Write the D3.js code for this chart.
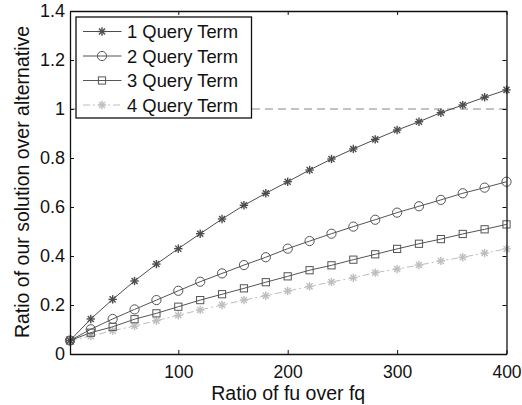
<!DOCTYPE html>
<html><head><meta charset="utf-8">
<script src="https://cdn.jsdelivr.net/npm/d3@7"></script>
<style>body{margin:0;background:#fff}svg{display:block}text{font-family:"Liberation Sans",Arial,sans-serif;fill:#111}</style>
</head><body><svg id="c" width="522" height="405"></svg>
<script>
const xValues = [1,20,40,60,80,100,120,140,160,180,200,220,240,260,280,300,320,340,360,380,400];
const series1 = [0.055,0.143,0.223,0.298,0.367,0.430,0.491,0.551,0.607,0.656,0.703,0.751,0.796,0.837,0.876,0.914,0.948,0.985,1.016,1.048,1.078];
const series2 = [0.055,0.101,0.143,0.182,0.220,0.258,0.295,0.329,0.363,0.395,0.430,0.461,0.491,0.520,0.548,0.577,0.603,0.629,0.656,0.679,0.703];
const series3 = [0.055,0.087,0.111,0.142,0.166,0.193,0.220,0.244,0.268,0.293,0.317,0.342,0.362,0.385,0.407,0.429,0.450,0.469,0.490,0.509,0.529];
const series4 = [0.055,0.073,0.095,0.114,0.136,0.158,0.180,0.200,0.220,0.238,0.257,0.276,0.294,0.311,0.332,0.347,0.363,0.380,0.395,0.412,0.429];
const seriesNames = ["1 Query Term","2 Query Term","3 Query Term","4 Query Term"];
const xTicks = [100,200,300,400];
const yTicks = [0,0.2,0.4,0.6,0.8,1,1.2,1.4];
const refLine = 1;

const svg = d3.select("#c");
const L=70, R=506.5, T=11, B=354;
const x = d3.scaleLinear().domain([1,400]).range([L,R]);
const y = d3.scaleLinear().domain([0,1.4]).range([B,T]);

const styles = [
  {color:"#4d4d4d", dash:null, marker:"star"},
  {color:"#555", dash:null, marker:"circle"},
  {color:"#555", dash:null, marker:"square"},
  {color:"#bdbdbd", dash:"7,3,2,3", marker:"star"}
];
const allSeries = [series1,series2,series3,series4];

svg.append("line").attr("x1",x(1)).attr("x2",x(400)).attr("y1",y(refLine)).attr("y2",y(refLine))
  .attr("stroke","#888").attr("stroke-width",1.2).attr("stroke-dasharray","8,5");

function drawMarker(g, type, cx, cy, color){
  if(type==="circle"){
    g.append("circle").attr("cx",cx).attr("cy",cy).attr("r",4.6).attr("fill","none").attr("stroke",color).attr("stroke-width",1);
  } else if(type==="square"){
    g.append("rect").attr("x",cx-3.6).attr("y",cy-3.6).attr("width",7.2).attr("height",7.2).attr("fill","none").attr("stroke",color).attr("stroke-width",1);
  } else {
    const r=4.2;
    [[0,1],[1,0],[0.72,0.72],[0.72,-0.72]].forEach(([a,b])=>{
      g.append("line").attr("x1",cx-a*r).attr("y1",cy-b*r).attr("x2",cx+a*r).attr("y2",cy+b*r)
        .attr("stroke",color).attr("stroke-width",1.4);
    });
  }
}

const line = d3.line().x((d,i)=>x(xValues[i])).y(d=>y(d));
for(let s=3;s>=0;s--){
  const st=styles[s];
  const g=svg.append("g");
  g.append("path").datum(allSeries[s]).attr("d",line).attr("fill","none")
    .attr("stroke",st.color).attr("stroke-width",1).attr("stroke-dasharray",st.dash);
  allSeries[s].forEach((v,i)=>drawMarker(g,st.marker,x(xValues[i]),y(v),st.color));
}

const xAxisB = d3.axisBottom(x).tickValues(xTicks).tickSizeInner(-4).tickSizeOuter(0).tickPadding(11.5);
const xAxisT = d3.axisTop(x).tickValues(xTicks).tickSizeInner(-4).tickSizeOuter(0).tickFormat("");
const yAxisL = d3.axisLeft(y).tickValues(yTicks).tickSizeInner(-4).tickSizeOuter(0).tickPadding(5).tickFormat(d3.format("~g"));
const yAxisR = d3.axisRight(y).tickValues(yTicks).tickSizeInner(-4).tickSizeOuter(0).tickFormat("");
function style(g){ g.select(".domain").attr("stroke","#111").attr("stroke-width",1.3);
  g.selectAll(".tick line").attr("stroke","#111");
  g.selectAll(".tick text").attr("font-size",18).attr("font-family","Liberation Sans, Arial, sans-serif").attr("fill","#111"); }
svg.append("g").attr("transform",`translate(0,${B})`).call(xAxisB).call(style)
  .selectAll(".tick text").attr("font-size",17.5);
svg.append("g").attr("transform",`translate(0,${T})`).call(xAxisT).call(style);
svg.append("g").attr("transform",`translate(${L},0)`).call(yAxisL).call(style);
svg.append("g").attr("transform",`translate(${R},0)`).call(yAxisR).call(style);

svg.append("text").attr("x",(L+R)/2).attr("y",399.5).attr("text-anchor","middle").attr("font-size",19.5).text("Ratio of fu over fq");
svg.append("text").attr("transform",`translate(29,182) rotate(-90)`).attr("text-anchor","middle").attr("font-size",19.5).text("Ratio of our solution over alternative");

const lg = svg.append("g");
lg.append("rect").attr("x",76).attr("y",17).attr("width",175.5).attr("height",101).attr("fill","#fff").attr("stroke","#111").attr("stroke-width",1.3);
seriesNames.forEach((n,i)=>{
  const yy = 31.5 + i*24.5;
  const st = styles[i];
  lg.append("line").attr("x1",83).attr("x2",121.5).attr("y1",yy).attr("y2",yy).attr("stroke",st.color).attr("stroke-width",1).attr("stroke-dasharray",st.dash);
  drawMarker(lg,st.marker,102,yy,st.color);
  lg.append("text").attr("x",127).attr("y",yy+6.5).attr("font-size",18.4).text(n);
});
</script></body></html>
